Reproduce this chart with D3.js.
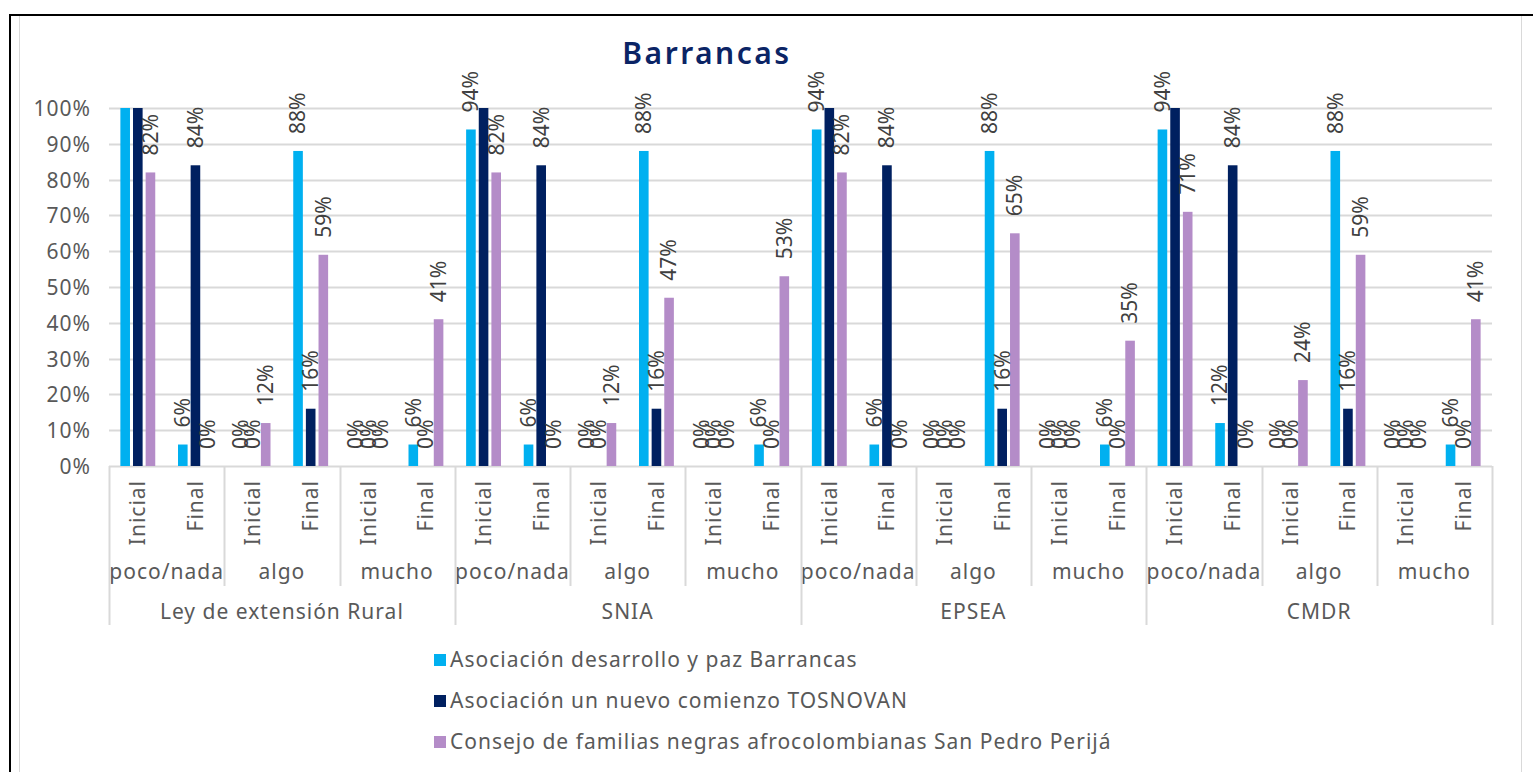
<!DOCTYPE html>
<meta charset="utf-8">

<style>
  body {
    margin: 0px;
    background: white;
  }

  svg {
    display: block;
    font-family: "Noto Sans", sans-serif;
  }

  .axis-text {
    fill: #595959;
    font-size: 21px;
    letter-spacing: 1px;
  }

  .label {
    fill: #404040;
    font-size: 21px;
  }
</style>

<script src="https://cdn.jsdelivr.net/npm/d3@7"></script>

<body>
  <svg class="chart"></svg>
</body>

<script>
const width = 1533;
const height = 772;

const groups = ['Ley de extensión Rural', 'SNIA', 'EPSEA', 'CMDR'];
const levels = ['poco/nada', 'algo', 'mucho'];
const stages = ['Inicial', 'Final'];
const series = [
  'Asociación desarrollo y paz Barrancas',
  'Asociación un nuevo comienzo TOSNOVAN',
  'Consejo de familias negras afrocolombianas San Pedro Perijá'
];
const colors = ['#00b0f0', '#002060', '#b48cc8'];
const yTicks = [0, 10, 20, 30, 40, 50, 60, 70, 80, 90, 100];

// one value per category, in order group > level > stage
const desarrollo = [
  100, 6, 0, 88, 0, 6,
  94, 6, 0, 88, 0, 6,
  94, 6, 0, 88, 0, 6,
  94, 12, 0, 88, 0, 6
];
const tosnovan = [
  100, 84, 0, 16, 0, 0,
  100, 84, 0, 16, 0, 0,
  100, 84, 0, 16, 0, 0,
  100, 84, 0, 16, 0, 0
];
const sanPedro = [
  82, 0, 12, 59, 0, 41,
  82, 0, 12, 47, 0, 53,
  82, 0, 0, 65, 0, 35,
  71, 0, 24, 59, 0, 41
];
const seriesValues = [desarrollo, tosnovan, sanPedro];

// build the flat category list
const categories = [];
groups.forEach(function(g) {
  levels.forEach(function(l) {
    stages.forEach(function(s) {
      categories.push({group: g, level: l, stage: s, key: `${g}|${l}|${s}`});
    });
  });
});

const plot = {left: 109, right: 1492, top: 108, bottom: 466};

const x0 = d3.scaleBand()
    .domain(categories.map(function(d) { return d.key }))
    .range([plot.left, plot.right]);

const x1 = d3.scaleBand()
    .domain(d3.range(series.length))
    .range([0, x0.bandwidth()])
    .paddingInner(0.24)
    .paddingOuter(0.9);

const y = d3.scaleLinear()
    .domain([0, 100])
    .range([plot.bottom, plot.top]);

const svg = d3.select('.chart')
    .attr('width', width)
    .attr('height', height);

// frame
svg.append('line')
    .attr('x1', 19.5).attr('x2', 19.5)
    .attr('y1', 16).attr('y2', height)
    .attr('stroke', '#d9d9d9');
svg.append('line')
    .attr('x1', 1521.5).attr('x2', 1521.5)
    .attr('y1', 16).attr('y2', height)
    .attr('stroke', '#d9d9d9');
svg.append('line')
    .attr('x1', 9).attr('x2', width)
    .attr('y1', 15).attr('y2', 15)
    .attr('stroke', 'black')
    .attr('stroke-width', 2);
svg.append('line')
    .attr('x1', 10).attr('x2', 10)
    .attr('y1', 14).attr('y2', height)
    .attr('stroke', 'black')
    .attr('stroke-width', 2);

// title
svg.append('text')
    .attr('x', 707)
    .attr('y', 64)
    .attr('text-anchor', 'middle')
    .attr('fill', '#0b2465')
    .attr('font-size', 30)
    .attr('font-weight', 600)
    .attr('letter-spacing', 2.5)
    .text('Barrancas');

// gridlines + y labels
const yAxis = svg.append('g')
  .selectAll('g')
    .data(yTicks)
  .enter().append('g')
    .attr('transform', function(d) { return `translate(0, ${Math.round(y(d)) + 0.5})` });

yAxis.append('line')
    .attr('x1', plot.left)
    .attr('x2', plot.right)
    .attr('stroke', '#d9d9d9')
    .attr('stroke-width', 2);

yAxis.append('text')
    .attr('class', 'axis-text')
    .attr('x', 91)
    .attr('dy', '0.35em')
    .attr('text-anchor', 'end')
    .text(function(d) { return d + '%' });

// bars
const bars = [];
categories.forEach(function(c, i) {
  seriesValues.forEach(function(vals, s) {
    bars.push({key: c.key, s: s, value: vals[i]});
  });
});

svg.append('g')
  .selectAll('rect')
    .data(bars)
  .enter().append('rect')
    .attr('x', function(d) { return x0(d.key) + x1(d.s) })
    .attr('y', function(d) { return y(d.value) })
    .attr('width', x1.bandwidth())
    .attr('height', function(d) { return plot.bottom - y(d.value) })
    .attr('fill', function(d) { return colors[d.s] });

// data labels (100% labels do not fit above the plot, the original hides them)
svg.append('g')
  .selectAll('text')
    .data(bars.filter(function(d) { return d.value < 100 }))
  .enter().append('text')
    .attr('class', 'label')
    .attr('transform', function(d) {
      const cx = x0(d.key) + x1(d.s) + x1.bandwidth() / 2;
      return `translate(${cx}, ${y(d.value) - 17}) rotate(-90)`;
    })
    .attr('dy', '0.35em')
    .text(function(d) { return d.value + '%' });

// category axis: stage labels
svg.append('g')
  .selectAll('text')
    .data(categories)
  .enter().append('text')
    .attr('class', 'axis-text')
    .attr('transform', function(d) {
      return `translate(${x0(d.key) + x0.bandwidth() / 2}, 480) rotate(-90)`;
    })
    .attr('dy', '0.35em')
    .attr('text-anchor', 'end')
    .text(function(d) { return d.stage });

// level labels and separators
const levelCells = categories.filter(function(d) { return d.stage === stages[0] });
const step = x0.step();

svg.append('g')
  .selectAll('text')
    .data(levelCells)
  .enter().append('text')
    .attr('class', 'axis-text')
    .attr('x', function(d) { return x0(d.key) + step })
    .attr('y', 572)
    .attr('dy', '0.35em')
    .attr('text-anchor', 'middle')
    .text(function(d) { return d.level });

const groupCells = categories.filter(function(d) { return d.stage === stages[0] && d.level === levels[0] });

svg.append('g')
  .selectAll('text')
    .data(groupCells)
  .enter().append('text')
    .attr('class', 'axis-text')
    .attr('x', function(d) { return x0(d.key) + step * 3 })
    .attr('y', 612)
    .attr('dy', '0.35em')
    .attr('text-anchor', 'middle')
    .text(function(d) { return d.group });

const seps = d3.range(0, categories.length + 1, 2);
svg.append('g')
  .selectAll('line')
    .data(seps)
  .enter().append('line')
    .attr('x1', function(d) { return Math.round(plot.left + d * step) + 0.5 })
    .attr('x2', function(d) { return Math.round(plot.left + d * step) + 0.5 })
    .attr('y1', plot.bottom)
    .attr('y2', function(d) { return d % 6 === 0 ? 625 : 586 })
    .attr('stroke', '#d9d9d9')
    .attr('stroke-width', 2);

// legend
const legend = svg.append('g')
  .selectAll('g')
    .data(series)
  .enter().append('g')
    .attr('transform', function(d, i) { return `translate(434, ${660 + i * 41})` });

legend.append('rect')
    .attr('y', -6)
    .attr('width', 12)
    .attr('height', 12)
    .attr('fill', function(d, i) { return colors[i] });

legend.append('text')
    .attr('class', 'axis-text')
    .attr('x', 16)
    .attr('dy', '0.35em')
    .text(function(d) { return d });
</script>
